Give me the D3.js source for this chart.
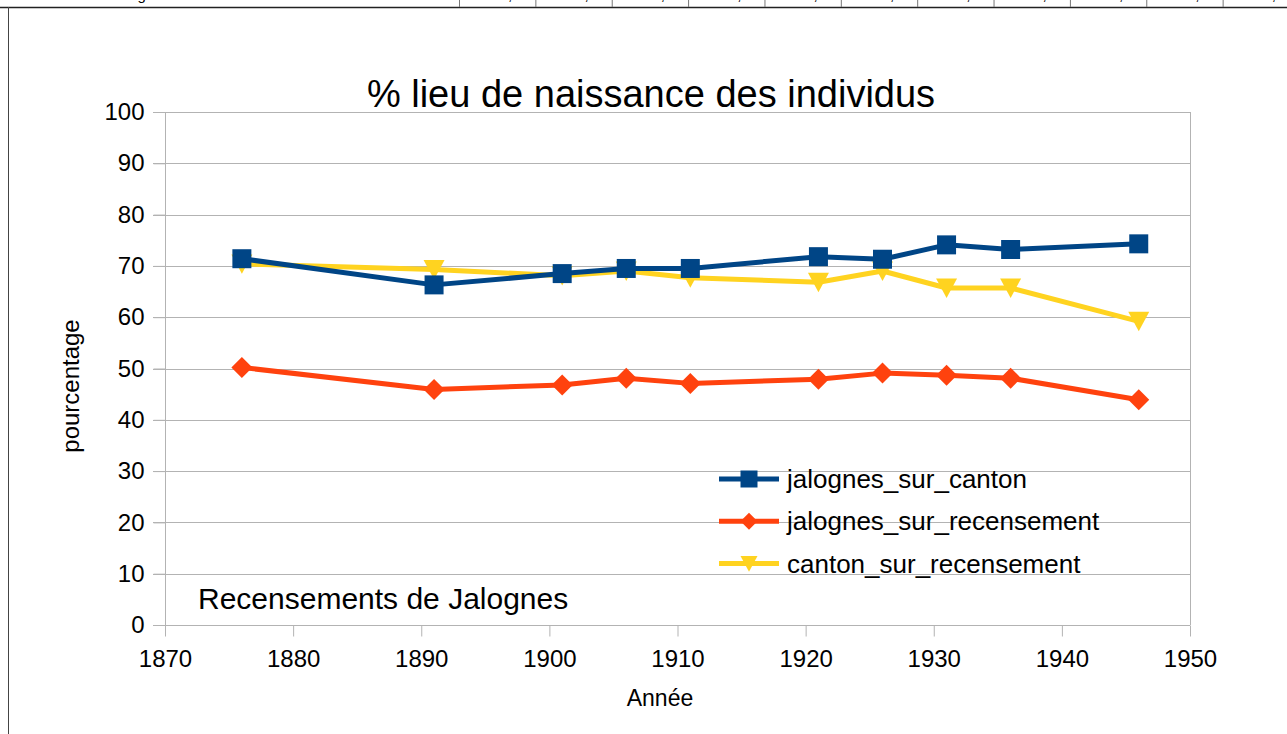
<!DOCTYPE html>
<html lang="fr">
<head>
    <meta charset="UTF-8">
    <title>% lieu de naissance des individus</title>
    <style>
        body { margin: 0; background: #fff; }
        svg text { font-family: "Liberation Sans", Arial, sans-serif; fill: #000; }
        .grid line { stroke: #b3b3b3; stroke-width: 1; }
        .axis path, .axis line { stroke: #b3b3b3; }
        .axis text { font-size: 24px; }
    </style>
</head>
<body>

<svg id="chart" width="1287" height="734"></svg>

<script src="https://cdn.jsdelivr.net/npm/d3@7"></script>
<script>

    // data
    var years = [1876, 1891, 1901, 1906, 1911, 1921, 1926, 1931, 1936, 1946];
    var jalognesSurCanton = [71.4, 66.3, 68.5, 69.5, 69.5, 71.8, 71.3, 74.1, 73.2, 74.3];
    var jalognesSurRecensement = [50.2, 45.9, 46.8, 48.1, 47.1, 47.9, 49.1, 48.7, 48.1, 43.9];
    var cantonSurRecensement = [70.4, 69.3, 68.1, 69.0, 67.7, 66.8, 69.0, 65.7, 65.7, 59.2];
    var seriesNames = ["jalognes_sur_canton", "jalognes_sur_recensement", "canton_sur_recensement"];
    var xTicks = [1870, 1880, 1890, 1900, 1910, 1920, 1930, 1940, 1950];
    var yTicks = [0, 10, 20, 30, 40, 50, 60, 70, 80, 90, 100];
    // spreadsheet row cut off at the top of the sheet
    var topRowLabel = "Jalognes";
    var topRowCells = ["71,3", "66,3", "68,5", "69,5", "69,5", "71,8", "71,3", "74,1", "73,2", "74,3", "72,0"];

    var colors = ["#004586", "#ff420e", "#ffd320"];
    var markers = ["square", "diamond", "triangle"];

    var svg = d3.select("#chart");

    // --- bits of the spreadsheet around the chart ---
    var sheet = svg.append("g");
    sheet.append("line").attr("x1", 0).attr("x2", 1287).attr("y1", 7.5).attr("y2", 7.5)
            .attr("stroke", "#222").attr("stroke-width", 1.5);
    sheet.append("line").attr("x1", 8.5).attr("x2", 8.5).attr("y1", 7).attr("y2", 734)
            .attr("stroke", "#444").attr("stroke-width", 1);
    var cellX = d3.scaleLinear().domain([0, topRowCells.length]).range([459, 1299]);
    sheet.selectAll(".cellLine")
            .data(d3.range(topRowCells.length))
            .enter().append("line")
            .attr("x1", function (i) { return cellX(i) + 0.5; })
            .attr("x2", function (i) { return cellX(i) + 0.5; })
            .attr("y1", 0).attr("y2", 7)
            .attr("stroke", "#777");
    sheet.selectAll(".cellText")
            .data(topRowCells)
            .enter().append("text")
            .attr("x", function (d, i) { return cellX(i) + 47; })
            .attr("y", 0)
            .attr("text-anchor", "middle")
            .style("font-size", "15px")
            .text(function (d) { return d; });
    sheet.append("text").attr("x", 110).attr("y", 0).style("font-size", "15px").text(topRowLabel);

    // --- chart ---
    var x = d3.scaleLinear().domain([1870, 1950]).range([165, 1190]);
    var y = d3.scaleLinear().domain([0, 100]).range([625, 112]);

    svg.append("g").attr("class", "grid")
            .selectAll("line")
            .data(yTicks)
            .enter().append("line")
            .attr("x1", 153).attr("x2", 1190)
            .attr("y1", function (d) { return Math.round(y(d)) + 0.5; })
            .attr("y2", function (d) { return Math.round(y(d)) + 0.5; });

    svg.append("line").attr("x1", 1190.5).attr("x2", 1190.5).attr("y1", y(100)).attr("y2", y(0))
            .attr("stroke", "#b3b3b3");

    svg.append("g").attr("class", "axis")
            .attr("transform", "translate(0," + (Math.round(y(0)) + 0.5) + ")")
            .call(d3.axisBottom(x).tickValues(xTicks).tickFormat(d3.format("d")).tickSize(11).tickPadding(13))
            .call(function (g) { g.select(".domain").remove(); })
            .selectAll("text").attr("dy", "0.71em");

    svg.append("g").attr("class", "axis")
            .attr("transform", "translate(" + 165.5 + ",0)")
            .call(d3.axisLeft(y).tickValues(yTicks).tickSize(12).tickPadding(9))
            .call(function (g) { g.select(".domain").attr("d", "M0," + y(0) + "V" + y(100)); });

    svg.selectAll(".axis text").style("fill", "#000").style("font-size", "24px");

    // marker shapes
    function markerPath(type, s) {
        var h = s / 2;
        if (type === "square") return "M" + (-h) + "," + (-h) + "h" + s + "v" + s + "h" + (-s) + "Z";
        if (type === "diamond") return "M0," + (-h) + "L" + h + ",0L0," + h + "L" + (-h) + ",0Z";
        return "M" + (-h) + "," + (-h * 0.9) + "L" + h + "," + (-h * 0.9) + "L0," + (h * 0.95) + "Z";
    }

    var allSeries = [jalognesSurCanton, jalognesSurRecensement, cantonSurRecensement];
    var line = d3.line()
            .x(function (d, i) { return x(years[i]); })
            .y(function (d) { return y(d); });

    // drawn last series first so the blue one sits on top
    [2, 1, 0].forEach(function (k) {
        var g = svg.append("g");
        g.append("path")
                .attr("d", line(allSeries[k]))
                .attr("fill", "none")
                .attr("stroke", colors[k])
                .attr("stroke-width", 5)
                .attr("stroke-linejoin", "round");
        g.selectAll(".m")
                .data(allSeries[k])
                .enter().append("path")
                .attr("transform", function (d, i) { return "translate(" + x(years[i]) + "," + y(d) + ")"; })
                .attr("d", markerPath(markers[k], k === 0 ? 19 : 21))
                .attr("fill", colors[k]);
    });

    // legend
    var legend = svg.append("g").attr("transform", "translate(719,479)");
    var item = legend.selectAll("g")
            .data(seriesNames)
            .enter().append("g")
            .attr("transform", function (d, i) { return "translate(0," + i * 42.3 + ")"; });
    item.append("line").attr("x1", 0).attr("x2", 60).attr("y1", 0).attr("y2", 0)
            .attr("stroke", function (d, i) { return colors[i]; })
            .attr("stroke-width", 5);
    item.append("path")
            .attr("transform", "translate(30,0)")
            .attr("d", function (d, i) { return markerPath(markers[i], 17); })
            .attr("fill", function (d, i) { return colors[i]; });
    item.append("text")
            .attr("x", 68).attr("y", 0).attr("dy", "0.35em")
            .style("font-size", "26px")
            .text(function (d) { return d; });

    // titles
    svg.append("text").attr("x", 651).attr("y", 107).attr("text-anchor", "middle")
            .style("font-size", "38px").text("% lieu de naissance des individus");
    svg.append("text").attr("x", 198).attr("y", 609)
            .style("font-size", "30px").text("Recensements de Jalognes");
    svg.append("text").attr("x", 660).attr("y", 706).attr("text-anchor", "middle")
            .style("font-size", "23px").text("Année");
    svg.append("text").attr("transform", "translate(79,386) rotate(-90)").attr("text-anchor", "middle")
            .style("font-size", "24px").text("pourcentage");

</script>
</body>
</html>
